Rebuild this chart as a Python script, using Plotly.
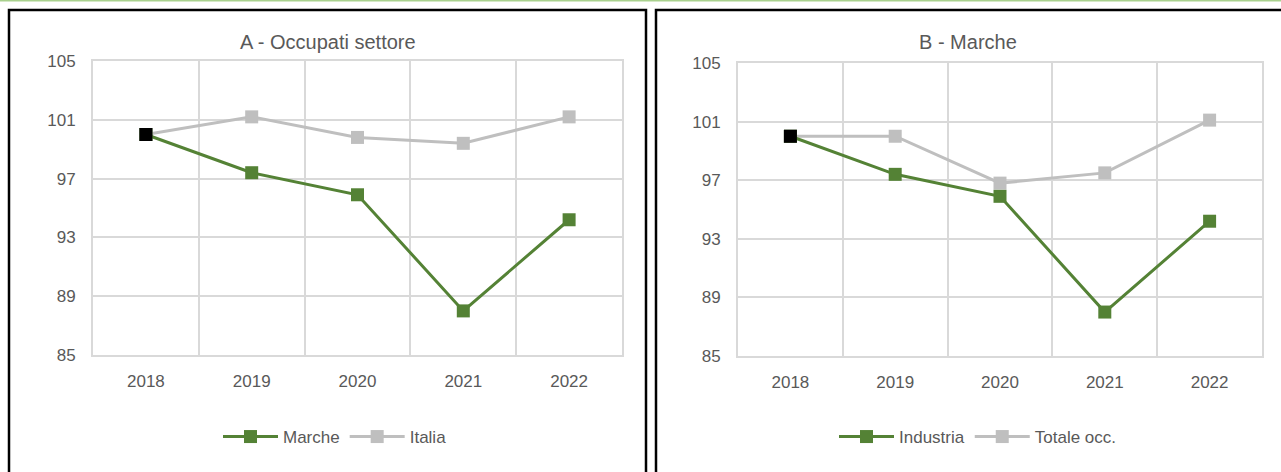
import plotly.graph_objects as go

years = ["2018", "2019", "2020", "2021", "2022"]

# A - Occupati settore
marche = [100.0, 97.4, 95.9, 88.0, 94.2]
italia = [100.0, 101.2, 99.8, 99.4, 101.2]

# B - Marche
industria = [100.0, 97.4, 95.9, 88.0, 94.2]
totale_occ = [100.0, 100.0, 96.8, 97.5, 101.1]

y_ticks = [85, 89, 93, 97, 101, 105]

GREEN = "#548235"
GREY = "#bfbfbf"
TXT = "#595959"
FONT = "Liberation Sans, Arial"
W, H = 1281, 472


def px_x(v):
    return v / W


def px_y(v):
    return 1 - v / H


fig = go.Figure()

panels = [
    ("x", "y", "legend", ("Marche", marche), ("Italia", italia)),
    ("x2", "y2", "legend2", ("Industria", industria), ("Totale occ.", totale_occ)),
]
for xa, ya, lg, (n1, s1), (n2, s2) in panels:
    fig.add_trace(go.Scatter(
        x=years, y=s2, name=n2, mode="lines+markers",
        line=dict(color=GREY, width=3),
        marker=dict(symbol="square", size=13, color=GREY),
        xaxis=xa, yaxis=ya, legend=lg, legendrank=2,
    ))
    fig.add_trace(go.Scatter(
        x=years, y=s1, name=n1, mode="lines+markers",
        line=dict(color=GREEN, width=3),
        marker=dict(symbol="square", size=13, color=GREEN),
        xaxis=xa, yaxis=ya, legend=lg, legendrank=1,
    ))
    # base year highlighted in black
    fig.add_trace(go.Scatter(
        x=years[:1], y=s1[:1], mode="markers", showlegend=False,
        marker=dict(symbol="square", size=13, color="black"),
        xaxis=xa, yaxis=ya,
    ))

axis_common_x = dict(
    type="category", tickson="boundaries", range=[-0.5, len(years) - 0.5],
    showgrid=True, gridcolor="#d9d9d9", gridwidth=2, showline=True,
    linecolor="#d9d9d9", linewidth=2, mirror=True, ticks="", zeroline=False,
    automargin=False, tickfont=dict(family=FONT, size=17, color=TXT),
    ticklabelstandoff=10, fixedrange=True,
)
axis_common_y = dict(
    range=[85, 105], tickvals=y_ticks, showgrid=True, gridcolor="#d9d9d9",
    gridwidth=2, showline=True, linecolor="#d9d9d9", linewidth=2, mirror=True,
    ticks="", zeroline=False, ticklabelstandoff=12, automargin=False,
    tickfont=dict(family=FONT, size=17, color=TXT),
    fixedrange=True,
)

legend_common = dict(orientation="h", xanchor="center", yanchor="middle",
                     font=dict(family=FONT, size=17, color=TXT),
                     itemwidth=55, bgcolor="rgba(0,0,0,0)")

fig.update_layout(
    width=W, height=H,
    margin=dict(l=0, r=0, t=0, b=0, autoexpand=False),
    paper_bgcolor="white", plot_bgcolor="white",
    font=dict(family=FONT, color=TXT),
    xaxis=dict(axis_common_x, domain=[px_x(93), px_x(622)], anchor="y"),
    yaxis=dict(axis_common_y, domain=[px_y(355), px_y(61)], anchor="x"),
    xaxis2=dict(axis_common_x, domain=[px_x(738), px_x(1262)], anchor="y2"),
    yaxis2=dict(axis_common_y, domain=[px_y(356), px_y(63)], anchor="x2"),
    legend=dict(legend_common, x=px_x(335), y=px_y(437)),
    legend2=dict(legend_common, x=px_x(978), y=px_y(437)),
    showlegend=True,
    annotations=[
        dict(text="A - Occupati settore", x=px_x(328), y=px_y(42),
             xref="paper", yref="paper", showarrow=False,
             xanchor="center", yanchor="middle",
             font=dict(family=FONT, size=20, color=TXT)),
        dict(text="B - Marche", x=px_x(968), y=px_y(42),
             xref="paper", yref="paper", showarrow=False,
             xanchor="center", yanchor="middle",
             font=dict(family=FONT, size=20, color=TXT)),
    ],
    shapes=[
        dict(type="line", xref="paper", yref="paper", x0=0, x1=1,
             y0=px_y(0.7), y1=px_y(0.7), line=dict(color="#a9d18e", width=1.5)),
        dict(type="rect", xref="paper", yref="paper", x0=px_x(9), x1=px_x(646),
             y0=px_y(480), y1=px_y(10), line=dict(color="black", width=2.5)),
        dict(type="rect", xref="paper", yref="paper", x0=px_x(656), x1=px_x(1290),
             y0=px_y(480), y1=px_y(10), line=dict(color="black", width=2.5)),
    ],
)

fig.write_html(
    "out.html",
    config={"displayModeBar": False},
    post_script="document.body.style.margin='0';document.body.style.overflow='hidden';",
)
